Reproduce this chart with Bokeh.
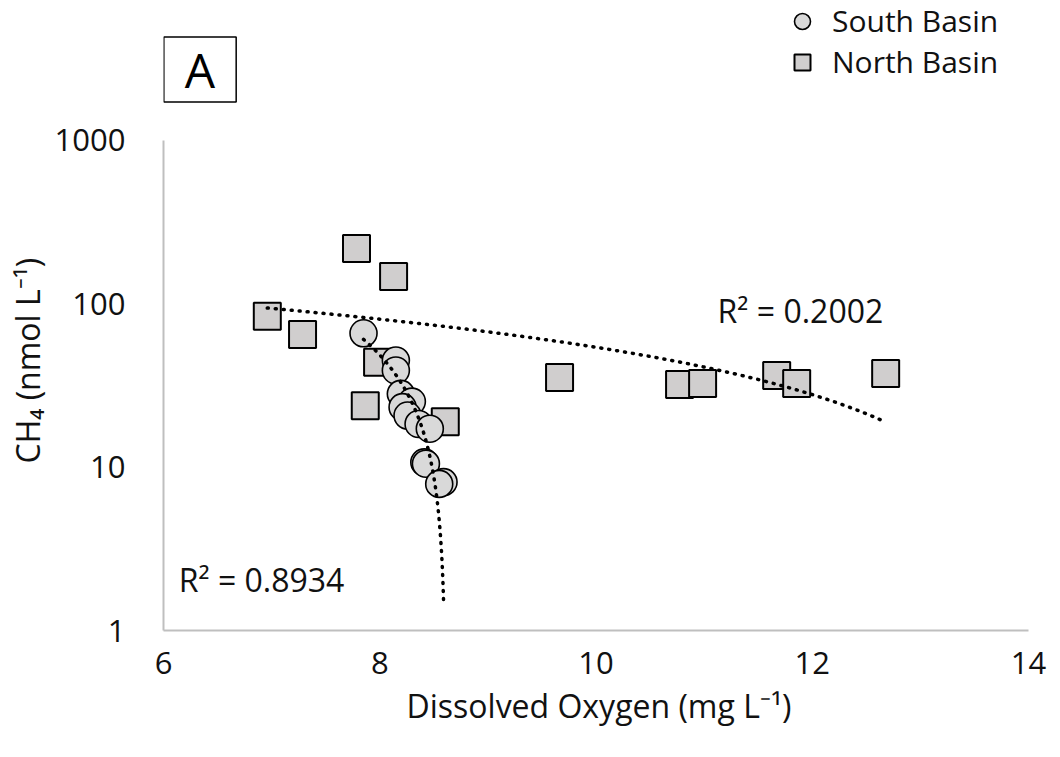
import numpy as np
from bokeh.plotting import figure
from bokeh.models import (Range1d, FixedTicker, Label, Legend, LegendItem,
                          PrintfTickFormatter, Title)
from bokeh.embed import file_html
from bokeh.resources import INLINE

# ---- data ----
south_do = [7.85, 8.149, 8.149, 8.195, 8.297, 8.211, 8.257, 8.359, 8.463, 8.412, 8.427, 8.59, 8.55]
south_ch4 = [66.0, 45.0, 39.1, 28.1, 25.2, 23.3, 20.7, 18.4, 17.2, 10.7, 10.5, 8.1, 7.9]
north_do = [6.96, 7.286, 7.785, 8.128, 7.98, 7.866, 8.606, 9.663, 10.773, 10.986, 11.671, 11.856, 12.679]
north_ch4 = [83.9, 64.9, 218.0, 147.0, 43.9, 23.8, 19.0, 35.4, 32.1, 32.5, 36.4, 32.5, 37.4]
x_ticks = [6, 8, 10, 12, 14]
y_ticks = [1, 10, 100, 1000]
south_name = "South Basin"
north_name = "North Basin"
south_r2 = "R² = 0.8934"
north_r2 = "R² = 0.2002"
panel_letter = "A"
x_title = "Dissolved Oxygen (mg L⁻¹)"
y_title = "CH₄ (nmol L⁻¹)"

FONT = "Open Sans"
TXT = "#111111"


def linear_trend(xs, ys, n=300):
    b, a = np.polyfit(np.asarray(xs), np.asarray(ys), 1)
    xx = np.linspace(min(xs), max(xs), n)
    yy = a + b * xx
    keep = yy > 0
    return xx[keep], yy[keep]


# frame: x 6 at px 161, 108.125 px per unit; y 1000 at px 140, 163.33 px per decade
p = figure(frame_width=899, frame_height=630,
           x_range=Range1d(6, 14.3145), y_range=Range1d(1, 7196),
           y_axis_type="log", output_backend="svg", toolbar_location=None,
           min_border_left=161, min_border_right=0,
           min_border_top=0, min_border_bottom=127)
p.outline_line_color = None
p.background_fill_color = "white"
p.border_fill_color = "white"
p.grid.visible = False

for ax in (p.xaxis, p.yaxis):
    ax.axis_line_color = "#bfbfbf"
    ax.axis_line_width = 2
    ax.major_tick_line_color = None
    ax.minor_tick_line_color = None
    ax.major_label_text_font = FONT
    ax.major_label_text_font_size = "31px"
    ax.major_label_text_color = TXT

p.xaxis.bounds = (x_ticks[0], x_ticks[-1])
p.yaxis.bounds = (y_ticks[0], y_ticks[-1])
p.xaxis.ticker = FixedTicker(ticks=x_ticks)
p.yaxis.ticker = FixedTicker(ticks=y_ticks)
p.yaxis.formatter = PrintfTickFormatter(format="%d")
p.xaxis.major_label_standoff = 15
p.yaxis.major_label_standoff = 32

p.add_layout(Title(text=x_title, align="left", offset=243, text_font=FONT,
                   text_font_size="32px", text_font_style="normal",
                   text_color=TXT, standoff=10), "below")
p.add_layout(Title(text=y_title, align="left", offset=167, text_font=FONT,
                   text_font_size="32px", text_font_style="normal",
                   text_color=TXT, standoff=6), "left")

# markers
rn = p.scatter(north_do, north_ch4, marker="square", size=27,
               fill_color="#d0cece", line_color="black", line_width=2)
rs = p.scatter(south_do, south_ch4, marker="circle", size=27,
               fill_color="#d9d9d9", line_color="black", line_width=1.6)

# linear trendlines (drawn on the log axis)
nx, ny = linear_trend(north_do, north_ch4)
sx, sy = linear_trend(south_do, south_ch4)
for xx, yy in ((nx, ny), (sx, sy)):
    p.line(xx, yy, line_color="black", line_width=3.5, line_dash="1 7", line_cap="round")

# R² labels
p.add_layout(Label(x=11.891, y=91.0, text=north_r2, text_align="center",
                   text_baseline="alphabetic", text_font=FONT,
                   text_font_size="32px", text_color=TXT))
p.add_layout(Label(x=6.907, y=2.05, text=south_r2, text_align="center",
                   text_baseline="alphabetic", text_font=FONT,
                   text_font_size="32px", text_color=TXT))

# panel letter box (padding order: left, right, top, bottom)
p.add_layout(Label(x=6.3376, y=2721, text=panel_letter, text_align="center",
                   text_baseline="middle", text_font=FONT, text_font_size="48px",
                   text_color="black", border_line_color="black", border_line_width=1.5,
                   background_fill_color="white", padding=(21, 21, 0, 0)))

common = dict(orientation="vertical", padding=0, margin=0, spacing=0,
              glyph_width=40, glyph_height=40, label_standoff=10,
              label_text_font=FONT, label_text_font_size="30px",
              label_text_color=TXT, border_line_color=None,
              background_fill_alpha=0)
p.add_layout(Legend(items=[LegendItem(label=south_name, renderers=[rs])],
                    location=(619, 589), **common))
p.add_layout(Legend(items=[LegendItem(label=north_name, renderers=[rn])],
                    location=(619, 548), **common))

open("out.html", "w").write(file_html(p, INLINE))
